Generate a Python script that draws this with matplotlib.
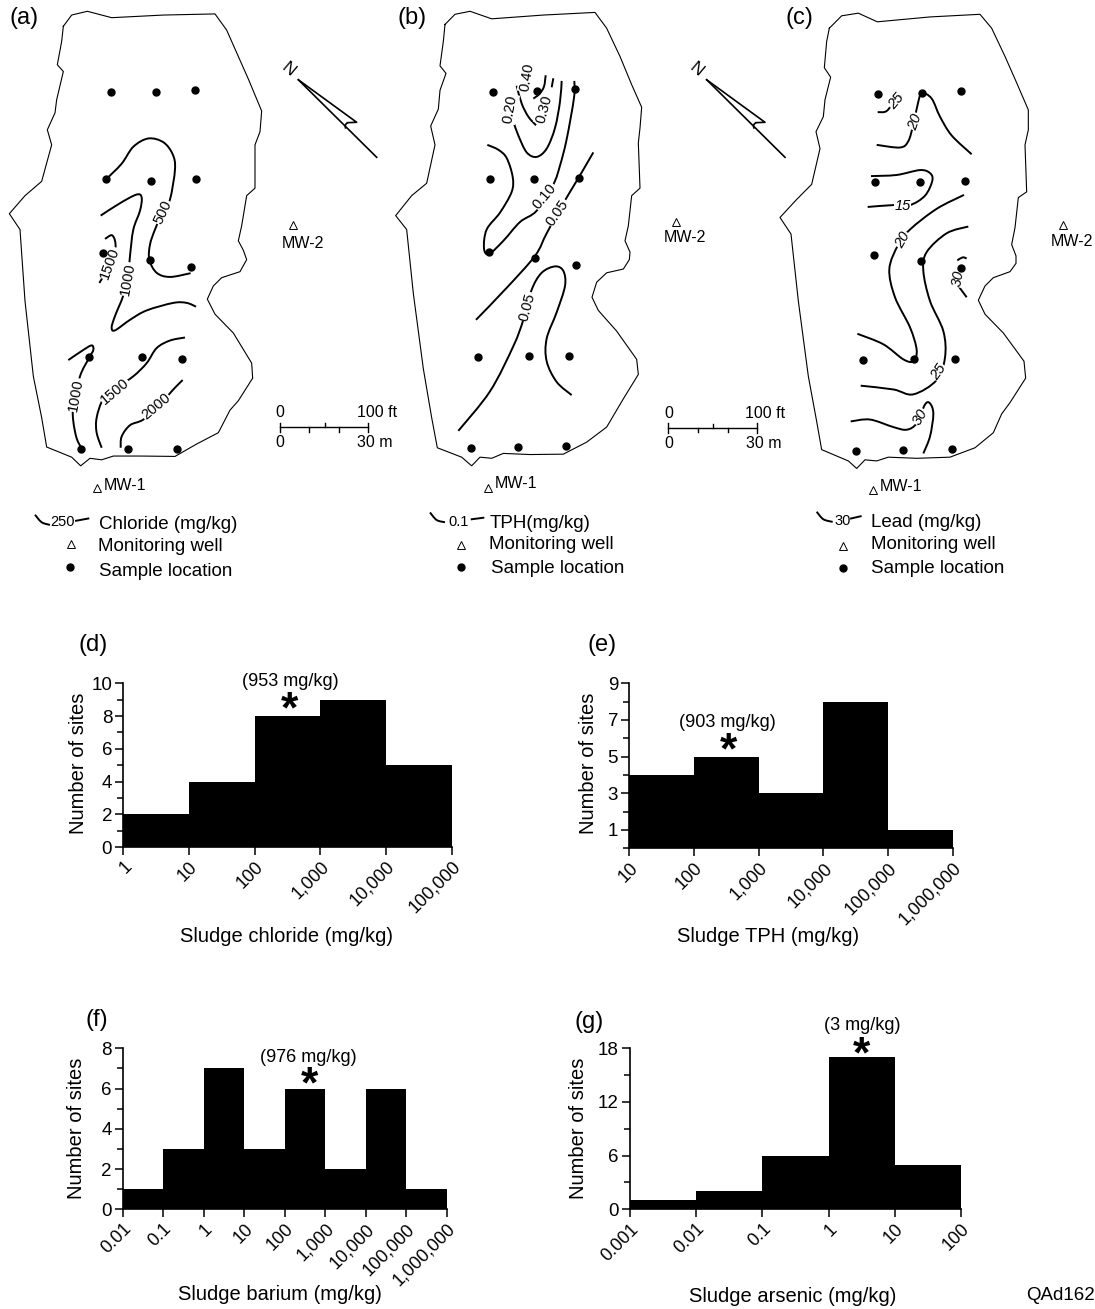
import matplotlib
matplotlib.use("Agg")
import matplotlib.pyplot as plt
from matplotlib.path import Path
from matplotlib.patches import PathPatch
from matplotlib.ticker import NullLocator
import numpy as np

plt.rcParams['font.family'] = ['Liberation Sans', 'DejaVu Sans']

W, H = 1095, 1309

outline_a = [(190,70),(215,40),(262,30),(335,47),(490,40),(645,37),(680,80),(720,160),(745,210),(785,295),(780,350),(765,385),(765,500),(740,520),(725,600),(715,640),(730,665),(740,690),(720,722),(665,738),(640,760),(622,795),(645,835),(700,885),(755,965),(758,1005),(715,1065),(690,1090),(655,1150),(590,1180),(525,1213),(420,1212),(340,1212),(305,1222),(270,1218),(242,1238),(215,1215),(140,1188),(125,1110),(100,1000),(75,800),(60,610),(28,568),(75,520),(125,482),(155,385),(142,345),(165,300),(170,265),(190,190),(172,172),(185,110),(190,70)]
outline_b = [(165,65),(195,38),(240,30),(305,50),(460,40),(615,33),(650,75),(690,150),(725,225),(755,285),(750,340),(745,380),(750,500),(725,520),(715,600),(705,640),(720,670),(718,690),(700,715),(650,725),(620,750),(606,790),(625,825),(680,880),(740,955),(745,995),(700,1060),(680,1090),(650,1135),(590,1175),(520,1207),(420,1208),(340,1205),(305,1218),(270,1215),(245,1238),(215,1215),(142,1190),(125,1110),(100,980),(70,780),(50,610),(17,573),(65,520),(110,487),(135,385),(122,335),(145,290),(150,240),(168,195),(150,175),(160,110),(165,65)]
outline_c = [(178,75),(215,42),(265,35),(322,58),(480,45),(630,38),(665,75),(705,150),(735,210),(775,292),(775,345),(765,385),(770,510),(745,525),(735,605),(725,650),(738,680),(738,700),(720,722),(670,738),(645,760),(625,798),(645,835),(700,885),(762,960),(767,1005),(720,1070),(695,1100),(670,1150),(615,1190),(540,1215),(440,1218),(355,1215),(320,1225),(285,1222),(260,1245),(235,1225),(155,1195),(140,1120),(115,1000),(85,800),(63,622),(30,578),(80,530),(125,490),(150,395),(138,350),(160,310),(165,265),(182,205),(163,180),(170,110),(178,75)]

samples_a = [(332,245),(467,245),(584,240),(318,477),(453,480),(588,477),(310,672),(450,690),(572,709),(268,950),(425,950),(546,953),(243,1192),(385,1192),(532,1192)]
samples_b = [(309,244),(441,241),(556,236),(301,476),(433,477),(566,472),(297,670),(435,686),(558,703),(264,948),(418,946),(537,947),(243,1190),(385,1187),(528,1186)]
samples_c = [(323,249),(456,247),(573,242),(316,484),(450,485),(584,480),(313,678),(452,694),(574,711),(279,956),(432,954),(554,955),(258,1198),(400,1195),(545,1193)]

contours_a = [
    [(320,475),(365,435),(400,390),(445,368),(490,378),(518,410),(525,450),(510,530),(490,560),(465,610),(450,650),(448,690),(470,725),(510,736),(572,726)],
    [(302,573),(360,540),(410,517),(425,525),(420,560),(400,610),(390,680),(385,730),(370,785),(345,840),(335,870),(345,878),(390,850),(440,825),(520,805),(560,805),(588,815)],
    [(315,635),(335,625),(345,640),(345,665),(325,710),(298,752)],
    [(205,957),(250,930),(275,918),(280,930),(268,950),(240,1000),(220,1080),(220,1120),(230,1165),(245,1192)],
    [(305,1190),(290,1150),(290,1110),(310,1060),(350,1030),(400,1000),(440,965),(470,925),(510,905),(555,897)],
    [(362,1190),(365,1160),(390,1130),(430,1115),(480,1075),(520,1035),(548,1010)],
]
contours_b = [
    [(467,200),(462,230),(448,250),(430,262)],
    [(380,228),(395,275),(415,310),(438,333)],
    [(490,208),(485,232)],
    [(515,215),(510,270),(495,340),(470,395),(440,417),(410,405),(385,360),(372,328)],
    [(553,215),(552,260),(530,370),(510,440),(490,490),(440,560),(390,590),(340,640),(297,675),(282,660),(290,610),(330,565),(365,510),(368,470),(350,420),(325,398),(292,385)],
    [(610,405),(566,472),(520,540),(470,620),(435,680),(350,765),(258,850)],
    [(545,1050),(500,1015),(470,960),(470,900),(500,830),(525,760),(520,720),(495,708),(455,725),(425,770),(400,850),(370,920),(300,1040),(205,1145)],
]
contours_c = [
    [(323,298),(350,295),(375,265)],
    [(320,385),(390,392),(415,375),(430,330),(445,270),(456,247),(485,262),(510,310),(545,360),(605,410)],
    [(303,468),(380,465),(450,452),(480,460),(487,480),(465,520),(420,545),(370,545),(293,550)],
    [(582,518),(500,555),(420,610),(385,650),(358,715),(375,790),(420,870),(440,930),(430,960),(400,955),(340,915),(262,887)],
    [(595,602),(530,620),(470,670),(460,720),(480,800),(520,880),(525,950),(500,1010),(430,1048),(370,1035),(272,1025)],
    [(562,692),(578,684),(590,687)],
    [(565,760),(590,790)],
    [(242,1120),(300,1115),(370,1135),(410,1142),(440,1125),(465,1075),(480,1072),(490,1100),(480,1160),(460,1205)],
]

# text, x, y, rotation
labels_a = [("500",490,565,65),("1000",383,742,80),("1500",330,700,70),("1000",228,1050,80),("1500",345,1040,40),("2000",468,1080,40)]
labels_b = [("0.40",410,205,80),("0.30",462,290,75),("0.20",360,290,80),("0.10",465,522,50),("0.05",503,565,55),("0.05",412,815,75)]
labels_c = [("25",378,268,50),("20",435,323,70),("15",398,547,0),("20",397,637,60),("25",505,988,55),("30",563,740,80),("30",450,1108,60)]

wells_a = [(880,598),(292,1296)]
wells_b = [(857,590),(295,1296)]
wells_c = [(878,598),(310,1302)]
well_names = ["MW-2", "MW-1"]
well_text_a = [(908,647),(375,1290)]
well_text_b = [(885,632),(378,1285)]
well_text_c = [(906,643),(393,1293)]

# ---- histograms ----
edges_d = [1, 10, 100, 1000, 10000, 100000]
counts_d = [2, 4, 8, 9, 5]
ticks_d = ["1", "10", "100", "1,000", "10,000", "100,000"]

edges_e = [10, 100, 1000, 10000, 100000, 1000000]
counts_e = [4, 5, 3, 8, 1]
ticks_e = ["10", "100", "1,000", "10,000", "100,000", "1,000,000"]

edges_f = [0.01, 0.1, 1, 10, 100, 1000, 10000, 100000, 1000000]
counts_f = [1, 3, 7, 3, 6, 2, 6, 1]
ticks_f = ["0.01", "0.1", "1", "10", "100", "1,000", "10,000", "100,000", "1,000,000"]

edges_g = [0.001, 0.01, 0.1, 1, 10, 100]
counts_g = [1, 2, 6, 17, 5]
ticks_g = ["0.001", "0.01", "0.1", "1", "10", "100"]


def smooth_path(pts):
    # Catmull-Rom control points turned into matplotlib bezier segments
    p = np.array(pts, dtype=float)
    verts = [p[0]]
    codes = [Path.MOVETO]
    for i in range(len(p) - 1):
        p0 = p[max(i - 1, 0)]
        p1 = p[i]
        p2 = p[i + 1]
        p3 = p[min(i + 2, len(p) - 1)]
        verts += [p1 + (p2 - p0) / 6, p2 - (p3 - p1) / 6, p2]
        codes += [Path.CURVE4] * 3
    return Path(verts, codes)


def map_axes(x0, wpx, hpx=590):
    # axes in the scan's zoom units, 3x wide, 1568/590 tall
    ax = fig.add_axes([x0 / W, 1 - hpx / H, wpx / W, hpx / H])
    ax.set_xlim(0, wpx * 3)
    ax.set_ylim(1568, 0)
    ax.axis('off')
    ax.patch.set_alpha(0)
    return ax


def draw_map(ax, outline, samples, contours, labels, wells, well_text, label_style='normal'):
    o = np.array(outline)
    ax.plot(o[:, 0], o[:, 1], color='black', lw=0.8, zorder=2)
    for c in contours:
        ax.add_patch(PathPatch(smooth_path(c), fc='none', ec='black', lw=1.4, zorder=3))
    for t, x, y, r in labels:
        ax.text(x, y, t, rotation=r, rotation_mode='anchor', ha='center', va='center', fontsize=10.5,
                style=label_style, zorder=4, bbox=dict(fc='white', ec='none', pad=0.4))
    s = np.array(samples)
    ax.plot(s[:, 0], s[:, 1], 'o', color='black', ms=5, zorder=5)
    w = np.array(wells)
    ax.plot(w[:, 0], w[:, 1], '^', mfc='none', mec='black', mew=0.7, ms=6, zorder=5)
    for name, (x, y) in zip(well_names, well_text):
        ax.text(x, y, name, ha='center', va='center', fontsize=11.5)


def north_arrow(ax, x, y):
    ax.plot([x, x + 235], [y, y + 206], color='black', lw=1.2)
    ax.plot([x, x + 175, x + 148], [y, y + 113, y + 114], color='black', lw=1.2)
    ax.add_patch(PathPatch(smooth_path([(x + 148, y + 114), (x + 141, y + 120), (x + 142, y + 130)]), fc='none', ec='black', lw=1.2))
    ax.text(x - 30, y - 27, "N", rotation=-40, ha='center', va='center', fontsize=12.5)


def scale_bar(ax, x, y):
    ax.plot([x, x + 265], [y, y], color='black', lw=1)
    ax.plot([x, x], [y - 12, y + 14], color='black', lw=1)
    ax.plot([x + 265, x + 265], [y - 12, y + 14], color='black', lw=1)
    ax.plot([x + 135, x + 135], [y - 10, y], color='black', lw=1)
    for dx in (88, 178):
        ax.plot([x + dx, x + dx], [y, y + 12], color='black', lw=1)
    ax.text(x, y - 38, "0", ha='center', va='center', fontsize=11.5)
    ax.text(x + 290, y - 38, "100 ft", ha='center', va='center', fontsize=11.5)
    ax.text(x, y + 41, "0", ha='center', va='center', fontsize=11.5)
    ax.text(x + 285, y + 41, "30 m", ha='center', va='center', fontsize=11.5)


def map_legend(ax, c1, val, c2, title, title_xy, tri, mon_xy, dot, samp_xy):
    ax.add_patch(PathPatch(smooth_path(c1), fc='none', ec='black', lw=1.4))
    ax.plot(*zip(*c2), color='black', lw=1.4)
    ax.text(val[0], val[1], val[2], ha='center', va='center', fontsize=10.5)
    ax.text(title_xy[0], title_xy[1], title, ha='left', va='center', fontsize=13.5)
    ax.plot([tri[0]], [tri[1]], '^', mfc='none', mec='black', mew=0.7, ms=6)
    ax.text(mon_xy[0], mon_xy[1], "Monitoring well", ha='left', va='center', fontsize=13.5)
    ax.plot([dot[0]], [dot[1]], 'o', color='black', ms=5)
    ax.text(samp_xy[0], samp_xy[1], "Sample location", ha='left', va='center', fontsize=13.5)


def hist_panel(box, edges, counts, ticks, ymax, major, minor):
    x0, x1, ytop, ybot = box
    ax = fig.add_axes([x0 / W, 1 - ybot / H, (x1 - x0) / W, (ybot - ytop) / H])
    ax.patch.set_alpha(0)
    e = np.array(edges, dtype=float)
    ax.bar(e[:-1], counts, width=np.diff(e), align='edge', color='black', zorder=2)
    ax.set_xscale('log')
    ax.set_xlim(e[0], e[-1])
    ax.set_ylim(0, ymax)
    ax.set_xticks(e)
    ax.set_xticklabels(ticks, rotation=45, ha='right', va='top', rotation_mode='anchor', fontsize=13)
    ax.xaxis.set_minor_locator(NullLocator())
    ax.set_yticks(major)
    ax.set_yticks(minor, minor=True)
    ax.tick_params(axis='y', which='major', length=6, width=1.1, labelsize=13.5, pad=2)
    ax.tick_params(axis='y', which='minor', length=4, width=1.1)
    ax.tick_params(axis='x', which='major', length=6, width=1.1, pad=2)
    for side in ('top', 'right'):
        ax.spines[side].set_visible(False)
    for side in ('left', 'bottom'):
        ax.spines[side].set_linewidth(1.2)
    return ax


def px_text(x, y, s, **kw):
    fig.text(x / W, 1 - y / H, s, ha=kw.pop('ha', 'center'), va=kw.pop('va', 'center'), **kw)


fig = plt.figure(figsize=(W / 100, H / 100), dpi=100, facecolor='white')

ax_a = map_axes(0, 400)
ax_b = map_axes(390, 400)
ax_c = map_axes(770, 325)

draw_map(ax_a, outline_a, samples_a, contours_a, labels_a, wells_a, well_text_a)
draw_map(ax_b, outline_b, samples_b, contours_b, labels_b, wells_b, well_text_b)
draw_map(ax_c, outline_c, samples_c, contours_c, labels_c, wells_c, well_text_c, label_style='italic')

north_arrow(ax_a, 895, 212)
north_arrow(ax_b, 950, 212)
scale_bar(ax_a, 840, 1135)
scale_bar(ax_b, 835, 1137)

map_legend(ax_a, [(105,1368),(125,1388),(150,1395)], (188,1388,"250"), [(228,1384),(265,1378)],
           "Chloride (mg/kg)", (297,1393), (213,1447), (295,1453), (210,1508), (297,1518))
map_legend(ax_b, [(120,1362),(140,1382),(165,1388)], (207,1388,"0.1"), [(245,1380),(280,1376)],
           "TPH(mg/kg)", (298,1390), (212,1448), (297,1448), (212,1508), (303,1510))
map_legend(ax_c, [(140,1360),(160,1380),(188,1387)], (218,1384,"30"), [(243,1378),(272,1372)],
           "Lead (mg/kg)", (303,1388), (218,1450), (303,1448), (218,1510), (303,1512))

ax_a.text(72, 47, "(a)", ha='center', va='center', fontsize=17)
ax_b.text(65, 47, "(b)", ha='center', va='center', fontsize=17)
ax_c.text(88, 47, "(c)", ha='center', va='center', fontsize=17)

hist_panel((123.3, 451.7, 683.3, 847), edges_d, counts_d, ticks_d, 10, [0, 2, 4, 6, 8, 10], [1, 3, 5, 7, 9])
hist_panel((629.3, 952.7, 683.3, 848.3), edges_e, counts_e, ticks_e, 9, [1, 3, 5, 7, 9], [0, 2, 4, 6, 8])
hist_panel((122.7, 446.7, 1048.3, 1209.3), edges_f, counts_f, ticks_f, 8, [0, 2, 4, 6, 8], [1, 3, 5, 7])
hist_panel((630, 961, 1048.3, 1209.3), edges_g, counts_g, ticks_g, 18, [0, 6, 12, 18], [3, 9, 15])

# panel letters, axis names and median notes
for s, x, y in [("(d)", 93, 645), ("(e)", 602, 645), ("(f)", 97, 1020), ("(g)", 589, 1022)]:
    px_text(x, y, s, fontsize=17)
for s, x, y in [("Sludge chloride (mg/kg)", 286, 936), ("Sludge TPH (mg/kg)", 768, 937),
                ("Sludge barium (mg/kg)", 280, 1295), ("Sludge arsenic (mg/kg)", 793, 1296)]:
    px_text(x, y, s, fontsize=14.5)
for x, y in [(78, 763), (588, 763), (77, 1128), (578, 1128)]:
    px_text(x, y, "Number of sites", fontsize=14.5, rotation=90)
for s, x, y in [("(953 mg/kg)", 290, 681), ("(903 mg/kg)", 727, 723), ("(976 mg/kg)", 308, 1057), ("(3 mg/kg)", 862, 1025)]:
    px_text(x, y, s, fontsize=13)
for x, y in [(289, 711), (728, 752), (309, 1086), (861, 1056)]:
    px_text(x, y, "*", fontsize=32, fontweight='bold')
px_text(1095, 1296, "QAd162", fontsize=13.5, ha='right')

fig.savefig("out.png", dpi=100)
